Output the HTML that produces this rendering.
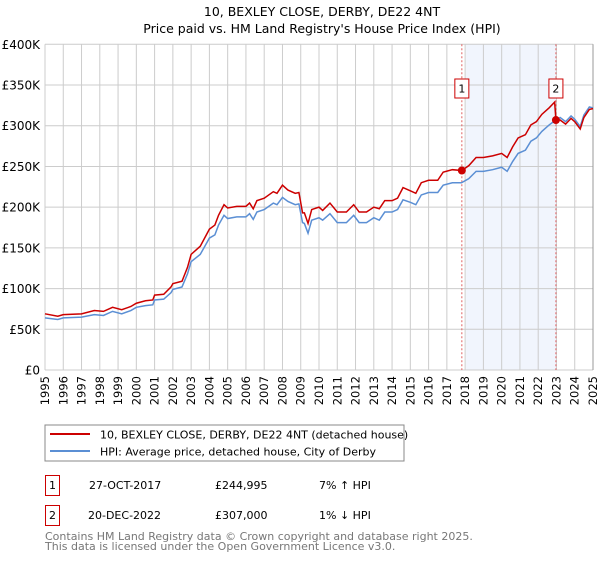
<!DOCTYPE html>
<html><head><meta charset="utf-8"><style>
body{margin:0;background:#fff;font-family:"Liberation Sans","DejaVu Sans",sans-serif;}
svg text{font-family:"DejaVu Sans","Liberation Sans",sans-serif;}
</style></head><body>
<svg id="c" width="600" height="560" xmlns="http://www.w3.org/2000/svg">
<text x="322" y="16" font-size="12.5" text-anchor="middle">10, BEXLEY CLOSE, DERBY, DE22 4NT</text>
<text x="322" y="33" font-size="12.5" text-anchor="middle">Price paid vs. HM Land Registry's House Price Index (HPI)</text>
<g id="plot"></g>
<rect x="45" y="425" width="359" height="36" fill="#fff" stroke="#888"/>
<line x1="50" y1="434" x2="90" y2="434" stroke="#cc0000" stroke-width="2"/>
<text x="100" y="438.5" font-size="11">10, BEXLEY CLOSE, DERBY, DE22 4NT (detached house)</text>
<line x1="50" y1="451" x2="90" y2="451" stroke="#5b8fd4" stroke-width="2"/>
<text x="100" y="455.5" font-size="11">HPI: Average price, detached house, City of Derby</text>
<g font-size="11">
<rect x="45.5" y="475.5" width="14" height="20" fill="#fff" stroke="#cc0000"/>
<text x="52.5" y="489" text-anchor="middle">1</text>
<text x="89" y="489">27-OCT-2017</text>
<text x="215" y="489">£244,995</text>
<text x="319" y="489">7% ↑ HPI</text>
<rect x="45.5" y="505.5" width="14" height="20" fill="#fff" stroke="#cc0000"/>
<text x="52.5" y="519" text-anchor="middle">2</text>
<text x="88" y="519">20-DEC-2022</text>
<text x="215" y="519">£307,000</text>
<text x="319" y="519">1% ↓ HPI</text>
</g>
<text x="45" y="540" font-size="11" fill="#777">Contains HM Land Registry data © Crown copyright and database right 2025.</text>
<text x="45" y="550" font-size="11" fill="#777">This data is licensed under the Open Government Licence v3.0.</text>
</svg>
<script>
const yTicks=[0,50,100,150,200,250,300,350,400];
const yTickLabels=["£0","£50K","£100K","£150K","£200K","£250K","£300K","£350K","£400K"];
const xYears=[1995,1996,1997,1998,1999,2000,2001,2002,2003,2004,2005,2006,2007,2008,2009,2010,2011,2012,2013,2014,2015,2016,2017,2018,2019,2020,2021,2022,2023,2024,2025];
const hpiDates=[1995.0,1995.7,1996.0,1997.0,1997.7,1998.2,1998.7,1999.2,1999.7,2000.0,2000.5,2000.9,2001.0,2001.5,2001.9,2002.0,2002.5,2002.8,2003.0,2003.5,2004.0,2004.3,2004.5,2004.8,2005.0,2005.5,2006.0,2006.2,2006.4,2006.6,2007.0,2007.5,2007.7,2008.0,2008.3,2008.7,2008.9,2009.1,2009.2,2009.4,2009.6,2010.0,2010.2,2010.6,2011.0,2011.5,2011.9,2012.2,2012.6,2013.0,2013.3,2013.6,2014.0,2014.3,2014.6,2015.0,2015.3,2015.6,2016.0,2016.5,2016.8,2017.3,2017.8,2018.2,2018.6,2019.0,2019.5,2020.0,2020.3,2020.6,2020.9,2021.3,2021.6,2021.9,2022.2,2022.6,2022.9,2023.2,2023.5,2023.8,2024.0,2024.3,2024.5,2024.8,2025.0];
const hpiValues=[64,62,64,65,68,67,72,69,73,77,79,80,86,87,95,99,102,118,133,142,162,166,178,190,186,188,188,192,185,194,197,205,203,212,207,203,204,181,180,168,184,187,184,192,181,181,190,181,181,187,184,194,194,197,209,206,203,215,218,218,227,230,230,235,244,244,246,249,244,256,266,270,281,285,293,301,306,310,305,312,308,299,313,323,322];
const ppDates=[1995.0,1995.7,1996.0,1997.0,1997.7,1998.2,1998.7,1999.2,1999.7,2000.0,2000.5,2000.9,2001.0,2001.5,2001.9,2002.0,2002.5,2002.8,2003.0,2003.5,2004.0,2004.3,2004.5,2004.8,2005.0,2005.5,2006.0,2006.2,2006.4,2006.6,2007.0,2007.5,2007.7,2008.0,2008.3,2008.7,2008.9,2009.1,2009.2,2009.4,2009.6,2010.0,2010.2,2010.6,2011.0,2011.5,2011.9,2012.2,2012.6,2013.0,2013.3,2013.6,2014.0,2014.3,2014.6,2015.0,2015.3,2015.6,2016.0,2016.5,2016.8,2017.3,2017.82,2018.2,2018.6,2019.0,2019.5,2020.0,2020.3,2020.6,2020.9,2021.3,2021.6,2021.9,2022.2,2022.6,2022.9,2022.97,2023.2,2023.5,2023.8,2024.0,2024.3,2024.5,2024.8,2025.0];
const ppValues=[69,66,68,69,73,72,77,74,78,82,85,86,92,93,102,106,109,126,142,152,173,178,190,203,199,201,201,205,198,208,211,219,217,227,221,217,218,193,193,180,197,200,196,205,194,194,203,194,194,200,198,208,208,211,224,220,217,230,233,233,243,246,245,251,261,261,263,266,261,274,285,289,301,305,314,322,329,307,307,302,309,305,296,310,320,321];
const saleDates=[2017.82,2022.97];
const saleValues=[244.995,307];
const saleLabels=["1","2"];

const NS="http://www.w3.org/2000/svg";
const L=45,R=593,T=44.3,B=370;
const xs=d=>L+(d-1995)/30*(R-L);
const ys=v=>B-v/400*(B-T);
const plot=document.getElementById('plot');
function mk(tag,attrs,parent){const e=document.createElementNS(NS,tag);for(const k in attrs)e.setAttribute(k,attrs[k]);(parent||plot).appendChild(e);return e;}

const shade=mk('rect',{x:xs(2018.05),y:T,width:xs(saleDates[1])-xs(2018.05),height:B-T,fill:'#eef3fc',opacity:0.8});



xYears.forEach(y=>{
  const g=mk('line',{x1:xs(y),x2:xs(y),y1:T,y2:B,stroke:'#cccccc','stroke-width':1});
  
  
  const t=mk('text',{x:0,y:0,'font-size':11.5,'text-anchor':'end',transform:`translate(${xs(y)+4},${B+6}) rotate(-90)`});
  t.textContent=y;
  
  
});
yTicks.forEach((v,i)=>{
  const g=mk('line',{x1:L,x2:R,y1:ys(v),y2:ys(v),stroke:'#cccccc','stroke-width':1});
  
  
  const t=mk('text',{x:40,y:ys(v)+4.5,'font-size':12,'text-anchor':'end'});
  t.textContent=yTickLabels[i];
  
  
});
const edge=mk('line',{x1:R,x2:R,y1:T,y2:B,stroke:'#999','stroke-width':1});



saleDates.forEach((d,i)=>{
  const v=mk('line',{x1:xs(d),x2:xs(d),y1:T,y2:B,stroke:'#e06060','stroke-width':1,'stroke-dasharray':'2,2'});
  
  
});

const hp=mk('polyline',{points:hpiDates.map((d,i)=>xs(d)+','+ys(hpiValues[i])).join(' '),fill:'none',stroke:'#5b8fd4','stroke-width':1.5});


const pp=mk('polyline',{points:ppDates.map((d,i)=>xs(d)+','+ys(ppValues[i])).join(' '),fill:'none',stroke:'#cc0000','stroke-width':1.5});



saleDates.forEach((d,i)=>{
  const c=mk('circle',{cx:xs(d),cy:ys(saleValues[i]),r:4,fill:'#cc0000'});
  
  
  const b=mk('rect',{x:xs(d)-7,y:79,width:14,height:19,fill:'#fff',stroke:'#cc0000'});
  
  
  const t=mk('text',{x:xs(d),y:92.5,'font-size':11,'text-anchor':'middle'});
  t.textContent=saleLabels[i];
  
  
});
</script>
</body></html>
